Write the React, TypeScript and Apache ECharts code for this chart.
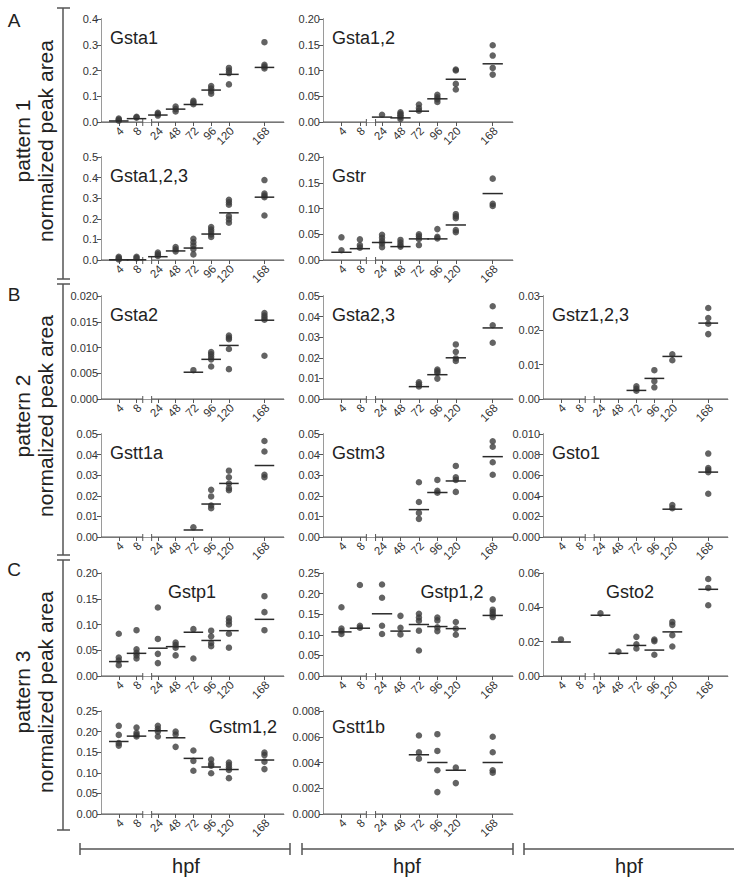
import React, { useEffect, useRef } from 'react';
import * as echarts from 'echarts';

// ---------- axis definition ----------
const HOURS = [4, 8, 24, 48, 72, 96, 120, 168];
const HOUR_POS = [1.0, 2.0, 3.2, 4.2, 5.2, 6.2, 7.2, 9.2];
const X_MAX = 10.3;
const BREAK = [2.35, 2.85];

type Pts = number[][];
type Med = (number | null)[];

// ---------- data (one list per time point, in HOURS order) ----------
const gsta1Points: Pts = [[0.013, 0.009, 0.005], [0.02, 0.017], [0.036, 0.031, 0.025], [0.06, 0.05, 0.041], [0.082, 0.076, 0.069], [0.14, 0.13, 0.12, 0.11], [0.21, 0.2, 0.19, 0.146], [0.31, 0.222, 0.215, 0.208]];
const gsta1Medians: Med = [0.004, 0.013, 0.027, 0.05, 0.068, 0.124, 0.185, 0.212];

const gsta12Points: Pts = [[], [], [0.014], [0.019, 0.016, 0.013, 0.01, 0.006], [0.034, 0.027, 0.022], [0.053, 0.048, 0.044, 0.039], [0.102, 0.1, 0.074, 0.063], [0.149, 0.129, 0.105, 0.092]];
const gsta12Medians: Med = [null, null, 0.0095, 0.008, 0.021, 0.045, 0.083, 0.113];

const gsta123Points: Pts = [[0.016, 0.009, 0.003], [0.016, 0.009], [0.036, 0.028, 0.02], [0.063, 0.052, 0.042], [0.103, 0.086, 0.07, 0.053, 0.027], [0.16, 0.148, 0.137, 0.124, 0.112], [0.292, 0.28, 0.268, 0.213, 0.197, 0.181], [0.388, 0.323, 0.313, 0.305, 0.216]];
const gsta123Medians: Med = [0.001, 0.001, 0.016, 0.044, 0.058, 0.126, 0.229, 0.305];

const gstrPoints: Pts = [[0.044, 0.019], [0.04, 0.029, 0.024], [0.049, 0.043, 0.037, 0.032, 0.025], [0.039, 0.034, 0.029, 0.026], [0.05, 0.046, 0.041, 0.029], [0.06, 0.045, 0.042], [0.089, 0.085, 0.081, 0.058, 0.054], [0.158, 0.109, 0.105]];
const gstrMedians: Med = [0.015, 0.022, 0.034, 0.026, 0.041, 0.041, 0.068, 0.129];

const gsta2Points: Pts = [[], [], [], [], [0.0056], [0.0091, 0.0087, 0.0082, 0.0077, 0.0063], [0.0123, 0.0119, 0.0116, 0.0097, 0.0058], [0.0167, 0.0162, 0.0158, 0.0154, 0.0084]];
const gsta2Medians: Med = [null, null, null, null, 0.0052, 0.0077, 0.0104, 0.0153];

const gsta23Points: Pts = [[], [], [], [], [0.0081, 0.0071, 0.0061], [0.0143, 0.0135, 0.0126, 0.0099], [0.0265, 0.0229, 0.0197, 0.0185], [0.045, 0.0358, 0.0273]];
const gsta23Medians: Med = [null, null, null, null, 0.006, 0.0118, 0.02, 0.0345];

const gstz123Points: Pts = [[], [], [], [], [0.0037, 0.003, 0.0024], [0.0084, 0.0052, 0.0034], [0.013, 0.0113], [0.0265, 0.0236, 0.0219, 0.0189]];
const gstz123Medians: Med = [null, null, null, null, 0.0025, 0.006, 0.0124, 0.0221];

const gstt1aPoints: Pts = [[], [], [], [], [0.0047], [0.0229, 0.0197, 0.0153, 0.014], [0.0322, 0.029, 0.026, 0.0237, 0.0227], [0.0466, 0.0415, 0.0302, 0.029]];
const gstt1aMedians: Med = [null, null, null, null, 0.0034, 0.016, 0.026, 0.0347];

const gstm3Points: Pts = [[], [], [], [], [0.0266, 0.017, 0.0117, 0.0088], [0.0277, 0.0224, 0.0215], [0.0345, 0.029, 0.0277, 0.0219], [0.0465, 0.0438, 0.0363, 0.0302]];
const gstm3Medians: Med = [null, null, null, null, 0.0133, 0.0216, 0.0272, 0.039];

const gsto1Points: Pts = [[], [], [], [], [], [], [0.0031, 0.0028], [0.0081, 0.0067, 0.0065, 0.0063, 0.0042]];
const gsto1Medians: Med = [null, null, null, null, null, null, 0.0027, 0.0063];

const gstp1Points: Pts = [[0.082, 0.036, 0.03, 0.021], [0.089, 0.052, 0.045, 0.04, 0.034], [0.133, 0.072, 0.043, 0.025], [0.065, 0.06, 0.055, 0.04], [0.091, 0.034], [0.088, 0.077, 0.064, 0.058], [0.112, 0.106, 0.1, 0.082, 0.055], [0.155, 0.124, 0.089]];
const gstp1Medians: Med = [0.028, 0.044, 0.054, 0.057, 0.085, 0.069, 0.088, 0.11];

const gstp12Points: Pts = [[0.167, 0.115, 0.109, 0.102], [0.221, 0.122, 0.117], [0.222, 0.19, 0.122, 0.102], [0.146, 0.117, 0.101], [0.151, 0.142, 0.134, 0.11, 0.062], [0.142, 0.135, 0.118, 0.109], [0.131, 0.115, 0.1], [0.186, 0.161, 0.155, 0.149, 0.143]];
const gstp12Medians: Med = [0.107, 0.116, 0.151, 0.109, 0.125, 0.12, 0.115, 0.147];

const gsto2Points: Pts = [[0.0213], [], [0.0365], [0.0142], [0.0228, 0.0185, 0.016], [0.0212, 0.0203, 0.0124], [0.0315, 0.0298, 0.0238, 0.0172], [0.0565, 0.0513, 0.0412]];
const gsto2Medians: Med = [0.0198, null, 0.0354, 0.0132, 0.0178, 0.0151, 0.0257, 0.0505];

const gstm12Points: Pts = [[0.214, 0.192, 0.172, 0.166], [0.21, 0.197, 0.192, 0.188], [0.214, 0.207, 0.2, 0.188], [0.2, 0.193, 0.163], [0.154, 0.129, 0.105], [0.132, 0.122, 0.117, 0.099], [0.125, 0.119, 0.113, 0.107, 0.087], [0.149, 0.143, 0.127, 0.109]];
const gstm12Medians: Med = [0.176, 0.189, 0.202, 0.185, 0.135, 0.114, 0.108, 0.131];

const gstt1bPoints: Pts = [[], [], [], [], [0.0061, 0.0048, 0.0043], [0.0062, 0.0049, 0.0034, 0.0017], [0.0036, 0.0024], [0.006, 0.0048, 0.0034, 0.0032]];
const gstt1bMedians: Med = [null, null, null, null, 0.0046, 0.004, 0.0034, 0.004];

// ---------- layout ----------
const COL_LEFT = [101, 323, 543];
const COL_WIDTH = [183, 190, 185];
const ROW_TOP = [19, 157, 296, 434, 573, 711];
const GRID_H = 103;
const FONT = "'Liberation Sans', Arial, sans-serif";

type Panel = {
  title: string; pts: Pts; med: Med; max: number; step: number; dec: number;
  col: number; row: number; tx?: number; tAlign?: string; tdy?: number;
};

const PANELS: Panel[] = [
  { title: 'Gsta1', pts: gsta1Points, med: gsta1Medians, max: 0.4, step: 0.1, dec: 1, col: 0, row: 0 },
  { title: 'Gsta1,2', pts: gsta12Points, med: gsta12Medians, max: 0.2, step: 0.05, dec: 2, col: 1, row: 0 },
  { title: 'Gsta1,2,3', pts: gsta123Points, med: gsta123Medians, max: 0.5, step: 0.1, dec: 1, col: 0, row: 1 },
  { title: 'Gstr', pts: gstrPoints, med: gstrMedians, max: 0.2, step: 0.05, dec: 2, col: 1, row: 1 },
  { title: 'Gsta2', pts: gsta2Points, med: gsta2Medians, max: 0.02, step: 0.005, dec: 3, col: 0, row: 2 },
  { title: 'Gsta2,3', pts: gsta23Points, med: gsta23Medians, max: 0.05, step: 0.01, dec: 2, col: 1, row: 2 },
  { title: 'Gstz1,2,3', pts: gstz123Points, med: gstz123Medians, max: 0.03, step: 0.01, dec: 2, col: 2, row: 2 },
  { title: 'Gstt1a', pts: gstt1aPoints, med: gstt1aMedians, max: 0.05, step: 0.01, dec: 2, col: 0, row: 3 },
  { title: 'Gstm3', pts: gstm3Points, med: gstm3Medians, max: 0.05, step: 0.01, dec: 2, col: 1, row: 3 },
  { title: 'Gsto1', pts: gsto1Points, med: gsto1Medians, max: 0.01, step: 0.002, dec: 3, col: 2, row: 3 },
  { title: 'Gstp1', pts: gstp1Points, med: gstp1Medians, max: 0.2, step: 0.05, dec: 2, col: 0, row: 4, tx: 192, tAlign: 'center' },
  { title: 'Gstp1,2', pts: gstp12Points, med: gstp12Medians, max: 0.25, step: 0.05, dec: 2, col: 1, row: 4, tx: 452, tAlign: 'center' },
  { title: 'Gsto2', pts: gsto2Points, med: gsto2Medians, max: 0.06, step: 0.02, dec: 2, col: 2, row: 4, tx: 630, tAlign: 'center' },
  { title: 'Gstm1,2', pts: gstm12Points, med: gstm12Medians, max: 0.25, step: 0.05, dec: 2, col: 0, row: 5, tx: 277, tAlign: 'right', tdy: -3 },
  { title: 'Gstt1b', pts: gstt1bPoints, med: gstt1bMedians, max: 0.008, step: 0.002, dec: 3, col: 1, row: 5, tdy: -3 },
];

function buildOption() {
  const grid: any[] = [];
  const xAxis: any[] = [];
  const yAxis: any[] = [];
  const series: any[] = [];
  const graphic: any[] = [];

  PANELS.forEach((p, i) => {
    const left = COL_LEFT[p.col];
    const width = COL_WIDTH[p.col];
    const top = ROW_TOP[p.row];
    grid.push({ left, top, width, height: GRID_H, show: false });

    xAxis.push({
      type: 'value', gridIndex: i, min: 0, max: X_MAX, position: 'bottom',
      axisLine: { show: false }, splitLine: { show: false },
      axisTick: { show: true, customValues: HOUR_POS, length: 4, lineStyle: { color: '#555' } },
      axisLabel: { show: false },
    });
    xAxis.push({
      type: 'value', gridIndex: i, min: 0, max: X_MAX, position: 'top',
      axisLine: { show: true, lineStyle: { color: '#9a9a9a' } },
      axisTick: { show: false }, axisLabel: { show: false }, splitLine: { show: false },
    });
    yAxis.push({
      type: 'value', gridIndex: i, min: 0, max: p.max, interval: p.step, position: 'left',
      axisLine: { show: true, lineStyle: { color: '#555' } },
      axisTick: { show: true, length: 4, lineStyle: { color: '#555' } },
      axisLabel: { fontSize: 11, color: '#333', margin: 3, fontFamily: FONT, formatter: (v: number) => v.toFixed(p.dec) },
      splitLine: { show: false },
    });
    yAxis.push({
      type: 'value', gridIndex: i, min: 0, max: p.max, position: 'right',
      axisLine: { show: true, lineStyle: { color: '#9a9a9a' } },
      axisTick: { show: false }, axisLabel: { show: false }, splitLine: { show: false },
    });

    const xi = i * 2;
    const yi = i * 2;

    // broken bottom axis
    series.push({
      type: 'custom', xAxisIndex: xi, yAxisIndex: yi, clip: false, silent: true,
      data: [[0, BREAK[0]], [BREAK[1], X_MAX]],
      renderItem: (_params: any, api: any) => {
        const x0 = api.value(0);
        const x1 = api.value(1);
        const a = api.coord([x0, 0]);
        const b = api.coord([x1, 0]);
        const children: any[] = [
          { type: 'line', shape: { x1: a[0], y1: a[1], x2: b[0], y2: b[1] }, style: { stroke: '#555', lineWidth: 1 } },
        ];
        if (x0 > 0) children.push({ type: 'line', shape: { x1: a[0], y1: a[1] - 3, x2: a[0], y2: a[1] + 4 }, style: { stroke: '#555', lineWidth: 1 } });
        if (x1 < X_MAX) children.push({ type: 'line', shape: { x1: b[0], y1: b[1] - 3, x2: b[0], y2: b[1] + 4 }, style: { stroke: '#555', lineWidth: 1 } });
        return { type: 'group', children };
      },
    });

    // rotated hour labels (45°), anchored at each tick
    series.push({
      type: 'custom', xAxisIndex: xi, yAxisIndex: yi, clip: false, silent: true,
      data: HOURS.map((h, k) => [HOUR_POS[k], 0, h]),
      renderItem: (_params: any, api: any) => {
        const c = api.coord([api.value(0), 0]);
        return {
          type: 'text', x: c[0] + 3, y: c[1] + 7, rotation: Math.PI / 4,
          style: { text: String(api.value(2)), fontSize: 11.5, fontFamily: FONT, fill: '#333', align: 'right', verticalAlign: 'middle' },
        };
      },
    });

    // points
    const pts: number[][] = [];
    p.pts.forEach((arr, k) => arr.forEach((v) => pts.push([HOUR_POS[k], v])));
    series.push({
      type: 'scatter', xAxisIndex: xi, yAxisIndex: yi, data: pts, symbolSize: 6.5,
      itemStyle: { color: '#3c3c3c' }, silent: true,
    });

    // median lines
    const meds: number[][] = [];
    p.med.forEach((m, k) => { if (m != null) meds.push([HOUR_POS[k], m]); });
    series.push({
      type: 'custom', xAxisIndex: xi, yAxisIndex: yi, clip: false, silent: true, data: meds, z: 3,
      renderItem: (_params: any, api: any) => {
        const a = api.coord([api.value(0) - 0.55, api.value(1)]);
        const b = api.coord([api.value(0) + 0.55, api.value(1)]);
        return { type: 'line', shape: { x1: a[0], y1: a[1], x2: b[0], y2: b[1] }, style: { stroke: '#2a2a2a', lineWidth: 1.5 } };
      },
    });

    // title
    const align = p.tAlign || 'left';
    const tx = p.tx != null ? p.tx : left + 9;
    graphic.push({
      type: 'text', x: tx, y: top + 19 + (p.tdy || 0),
      style: { text: p.title, fontSize: 18, fontFamily: FONT, fill: '#222', align, verticalAlign: 'middle' },
    });
  });

  // left brackets
  const LX = 63;
  const segs = [[8, 279], [284, 555], [560, 830]];
  segs.forEach(([y0, y1]) => {
    graphic.push({ type: 'line', shape: { x1: LX, y1: y0, x2: LX, y2: y1 }, style: { stroke: '#555', lineWidth: 1.5 } });
    graphic.push({ type: 'line', shape: { x1: LX - 6, y1: y0, x2: LX + 7, y2: y0 }, style: { stroke: '#555', lineWidth: 1.5 } });
    graphic.push({ type: 'line', shape: { x1: LX - 6, y1: y1, x2: LX + 7, y2: y1 }, style: { stroke: '#555', lineWidth: 1.5 } });
  });
  const sections = [
    { letter: 'A', ly: 20, pattern: 'pattern 1', cy: 141 },
    { letter: 'B', ly: 294, pattern: 'pattern 2', cy: 416 },
    { letter: 'C', ly: 569, pattern: 'pattern 3', cy: 692 },
  ];
  sections.forEach((s) => {
    graphic.push({ type: 'text', x: 14, y: s.ly, style: { text: s.letter, fontSize: 19, fontFamily: FONT, fill: '#222', align: 'center', verticalAlign: 'middle' } });
    graphic.push({ type: 'text', x: 22, y: s.cy, rotation: Math.PI / 2, style: { text: s.pattern, fontSize: 21, fontFamily: FONT, fill: '#222', align: 'center', verticalAlign: 'middle' } });
    graphic.push({ type: 'text', x: 45, y: s.cy, rotation: Math.PI / 2, style: { text: 'normalized peak area', fontSize: 21, fontFamily: FONT, fill: '#222', align: 'center', verticalAlign: 'middle' } });
  });

  // bottom hpf brackets
  const BY = 849;
  const hpf = [[80, 290], [302, 513], [524, 734]];
  hpf.forEach(([x0, x1]) => {
    graphic.push({ type: 'line', shape: { x1: x0, y1: BY, x2: x1, y2: BY }, style: { stroke: '#555', lineWidth: 1.5 } });
    graphic.push({ type: 'line', shape: { x1: x0, y1: BY - 6, x2: x0, y2: BY + 6 }, style: { stroke: '#555', lineWidth: 1.5 } });
    if (x1 < 734) graphic.push({ type: 'line', shape: { x1: x1, y1: BY - 6, x2: x1, y2: BY + 6 }, style: { stroke: '#555', lineWidth: 1.5 } });
  });
  [186, 407, 629].forEach((cx) => {
    graphic.push({ type: 'text', x: cx, y: 866, style: { text: 'hpf', fontSize: 20, fontFamily: FONT, fill: '#222', align: 'center', verticalAlign: 'middle' } });
  });

  return {
    animation: false,
    backgroundColor: '#fff',
    textStyle: { fontFamily: FONT },
    grid, xAxis, yAxis, series, graphic,
  };
}

export default function App() {
  const ref = useRef<HTMLDivElement>(null);
  useEffect(() => {
    if (!ref.current) return;
    const chart = echarts.init(ref.current, undefined, { renderer: 'svg' });
    chart.setOption(buildOption() as any);
    return () => chart.dispose();
  }, []);
  return <div ref={ref} style={{ position: 'absolute', left: 0, top: 0, width: 734, height: 879 }} />;
}
